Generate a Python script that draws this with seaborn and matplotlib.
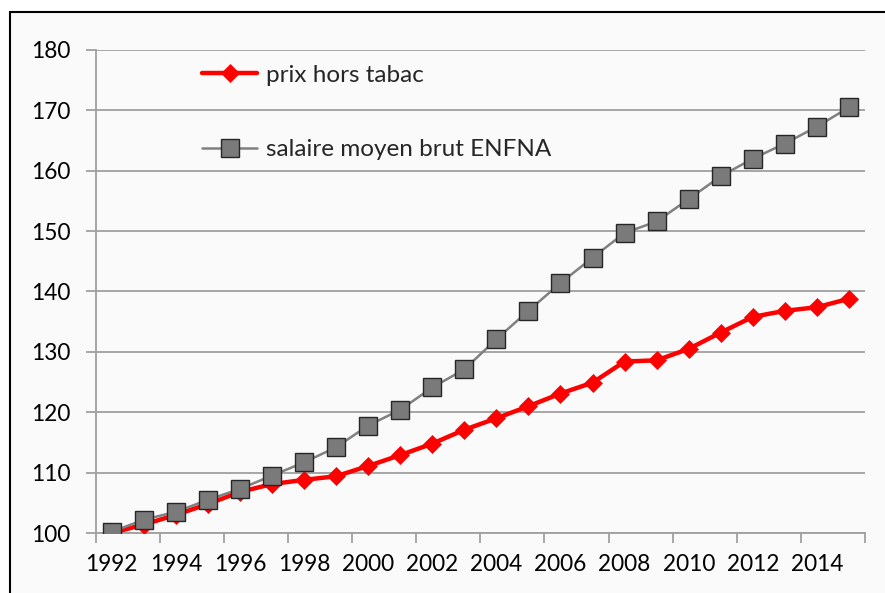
import matplotlib
matplotlib.use("Agg")
import matplotlib.pyplot as plt
from matplotlib.patches import Rectangle
import seaborn as sns
import pandas as pd
import numpy as np

years = list(range(1992, 2016))
prix_hors_tabac = [100.0, 101.4, 103.0, 104.8, 106.8, 108.1, 108.8, 109.4, 111.1, 112.9,
                   114.8, 117.1, 119.0, 121.0, 123.1, 124.9, 128.4, 128.6, 130.5, 133.2,
                   135.8, 136.8, 137.4, 138.8]
salaire_moyen = [100.2, 102.2, 103.5, 105.5, 107.3, 109.5, 111.7, 114.2, 117.8, 120.4,
                 124.1, 127.1, 132.1, 136.8, 141.4, 145.6, 149.7, 151.6, 155.3, 159.1,
                 162.0, 164.5, 167.3, 170.5]
series_names = ["prix hors tabac", "salaire moyen brut ENFNA"]
y_ticks = [100, 110, 120, 130, 140, 150, 160, 170, 180]

sns.set_theme(style="white")
plt.rcParams['font.family'] = ['Lato', 'DejaVu Sans']

df = pd.DataFrame({"idx": np.arange(len(years)), "year": years,
                   series_names[0]: prix_hors_tabac, series_names[1]: salaire_moyen})

fig = plt.figure(figsize=(8.85, 5.93), dpi=100)
fig.patch.set_facecolor("white")
# chart frame
frame = Rectangle((10 / 885, -0.05), 1.0, (593 - 12) / 593 + 0.05, transform=fig.transFigure,
                  facecolor="#fafafa", edgecolor="black", linewidth=1.5, zorder=-10)
fig.patches.append(frame)

ax = fig.add_axes([95.7 / 885, 60 / 593, (865 - 95.7) / 885, (533 - 50) / 593])
ax.set_facecolor("none")

sns.lineplot(data=df, x="idx", y=series_names[0], ax=ax, color="#ff0000", linewidth=3.2,
             marker="D", markersize=9, markeredgecolor="#ff0000", markeredgewidth=0.5,
             label=series_names[0], zorder=3)
sns.lineplot(data=df, x="idx", y=series_names[1], ax=ax, color="#808080", linewidth=1.8,
             marker="s", markersize=13, markerfacecolor="#7a7a7a", markeredgecolor="#262626",
             markeredgewidth=1.0, label=series_names[1], zorder=4)

ax.set_xlim(-0.5, len(years) - 0.5)
ax.set_ylim(100, 180)
ax.set_yticks(y_ticks)
ax.set_yticklabels([str(v) for v in y_ticks])
ax.set_xticks(np.arange(0, len(years), 2))
ax.set_xticklabels([str(years[i]) for i in range(0, len(years), 2)])
ax.set_xticks(np.arange(-0.5, len(years), 2), minor=True)
ax.set_xlabel("")
ax.set_ylabel("")

ax.grid(axis="y", color="#a6a6a6", linewidth=1.4, zorder=0)
ax.set_axisbelow(True)
for s in ["top", "right"]:
    ax.spines[s].set_visible(False)
for s in ["left", "bottom"]:
    ax.spines[s].set_color("#a0a0a0")
    ax.spines[s].set_linewidth(1.3)

ax.tick_params(axis="y", which="major", direction="out", length=7, width=1.3, color="#a0a0a0",
               pad=11, labelsize=16.3, labelcolor="black", left=True)
ax.tick_params(axis="x", which="major", length=0, pad=15, labelsize=16.3, labelcolor="black")
ax.tick_params(axis="x", which="minor", direction="out", length=7, width=1.3, color="#a0a0a0",
               bottom=True)

leg = ax.legend(loc="upper left", bbox_to_anchor=(0.125, 0.99), frameon=False,
                fontsize=17.5, handlelength=2.3, handletextpad=0.35, labelspacing=2.2,
                borderaxespad=0)

fig.savefig("out.png", dpi=100)
